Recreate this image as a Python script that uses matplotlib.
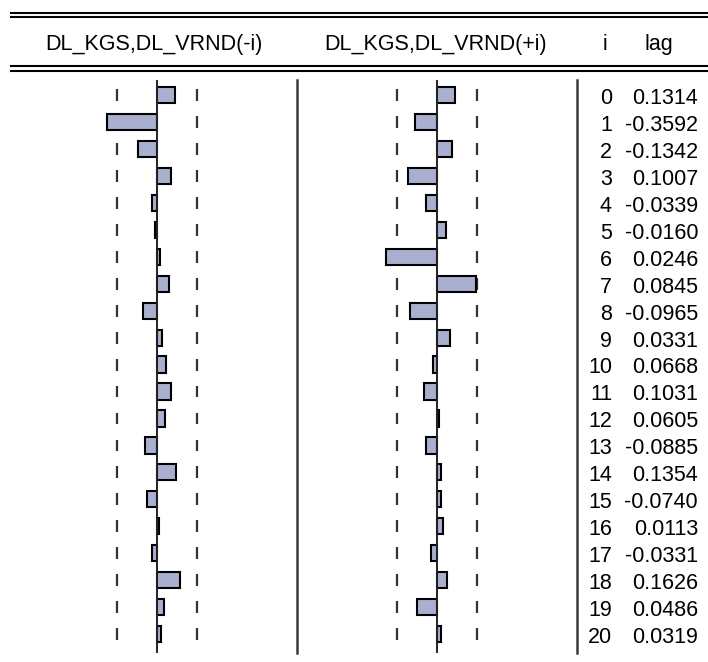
import numpy as np
import matplotlib
matplotlib.use("Agg")
import matplotlib.pyplot as plt
from matplotlib.lines import Line2D

plt.rcParams['font.family'] = ['Liberation Sans', 'DejaVu Sans']

# данные: лаги и кросс-корреляции
lags = list(range(21))
lag_vals = [0.1314, -0.3592, -0.1342, 0.1007, -0.0339, -0.0160, 0.0246, 0.0845,
            -0.0965, 0.0331, 0.0668, 0.1031, 0.0605, -0.0885, 0.1354, -0.0740,
            0.0113, -0.0331, 0.1626, 0.0486, 0.0319]
# значения lead прочитаны по длине столбцов
lead_vals = [0.1314, -0.155, 0.107, -0.210, -0.079, 0.066, -0.366, 0.276,
             -0.196, 0.093, -0.027, -0.093, 0.013, -0.079, 0.029, 0.029,
             0.043, -0.040, 0.069, -0.146, 0.029]
band = 0.2828  # 2/sqrt(50)
headers = ["DL_KGS,DL_VRND(-i)", "DL_KGS,DL_VRND(+i)", "i", "lag"]

W, H = 708, 662
fig = plt.figure(figsize=(W / 100, H / 100), dpi=100)

def px_axes(x0, y0, x1, y1):
    return fig.add_axes([x0 / W, 1 - y1 / H, (x1 - x0) / W, (y1 - y0) / H])

bar_col = '#a9b0cf'
ylim = (20.70, -0.557)
panels = [(17, lag_vals), (297, lead_vals)]
rows = np.array(lags)
for x0, vals in panels:
    ax = px_axes(x0, 80, x0 + 280, 653)
    ax.set_xlim(-1, 1)
    ax.set_ylim(*ylim)
    ax.axis('off')
    ax.barh(lags, vals, height=0.6, color=bar_col, edgecolor='black', linewidth=1.5, zorder=3)
    ax.axvline(0, color='#222222', linewidth=1.4, zorder=4)
    ax.axvline(1, color='#3a3a3a', linewidth=1.8, zorder=4, clip_on=False)
    for s in (-band, band):
        ax.vlines(np.full(len(rows), s), rows - 0.22, rows + 0.22, color='#333333', linewidth=1.6)

# колонка с числами
axt = px_axes(577, 80, 708, 653)
axt.set_xlim(577, 708)
axt.set_ylim(*ylim)
axt.axis('off')
for i, v in zip(lags, lag_vals):
    axt.text(612, i + 0.33, str(i), ha='right', va='baseline', fontsize=15.5)
    axt.text(698, i + 0.33, f"{v:.4f}", ha='right', va='baseline', fontsize=15.5)

# шапка таблицы
axh = fig.add_axes([0, 0, 1, 1])
axh.set_xlim(0, W)
axh.set_ylim(H, 0)
axh.axis('off')
for y in (12.5, 16.5, 66, 71):
    axh.add_line(Line2D([11, W], [y, y], color='black', linewidth=1.5))
for txt, x in zip(headers, [154, 436, 605, 659]):
    axh.text(x, 50, txt, ha='center', va='baseline', fontsize=15.5)

fig.savefig("out.png", dpi=100)
